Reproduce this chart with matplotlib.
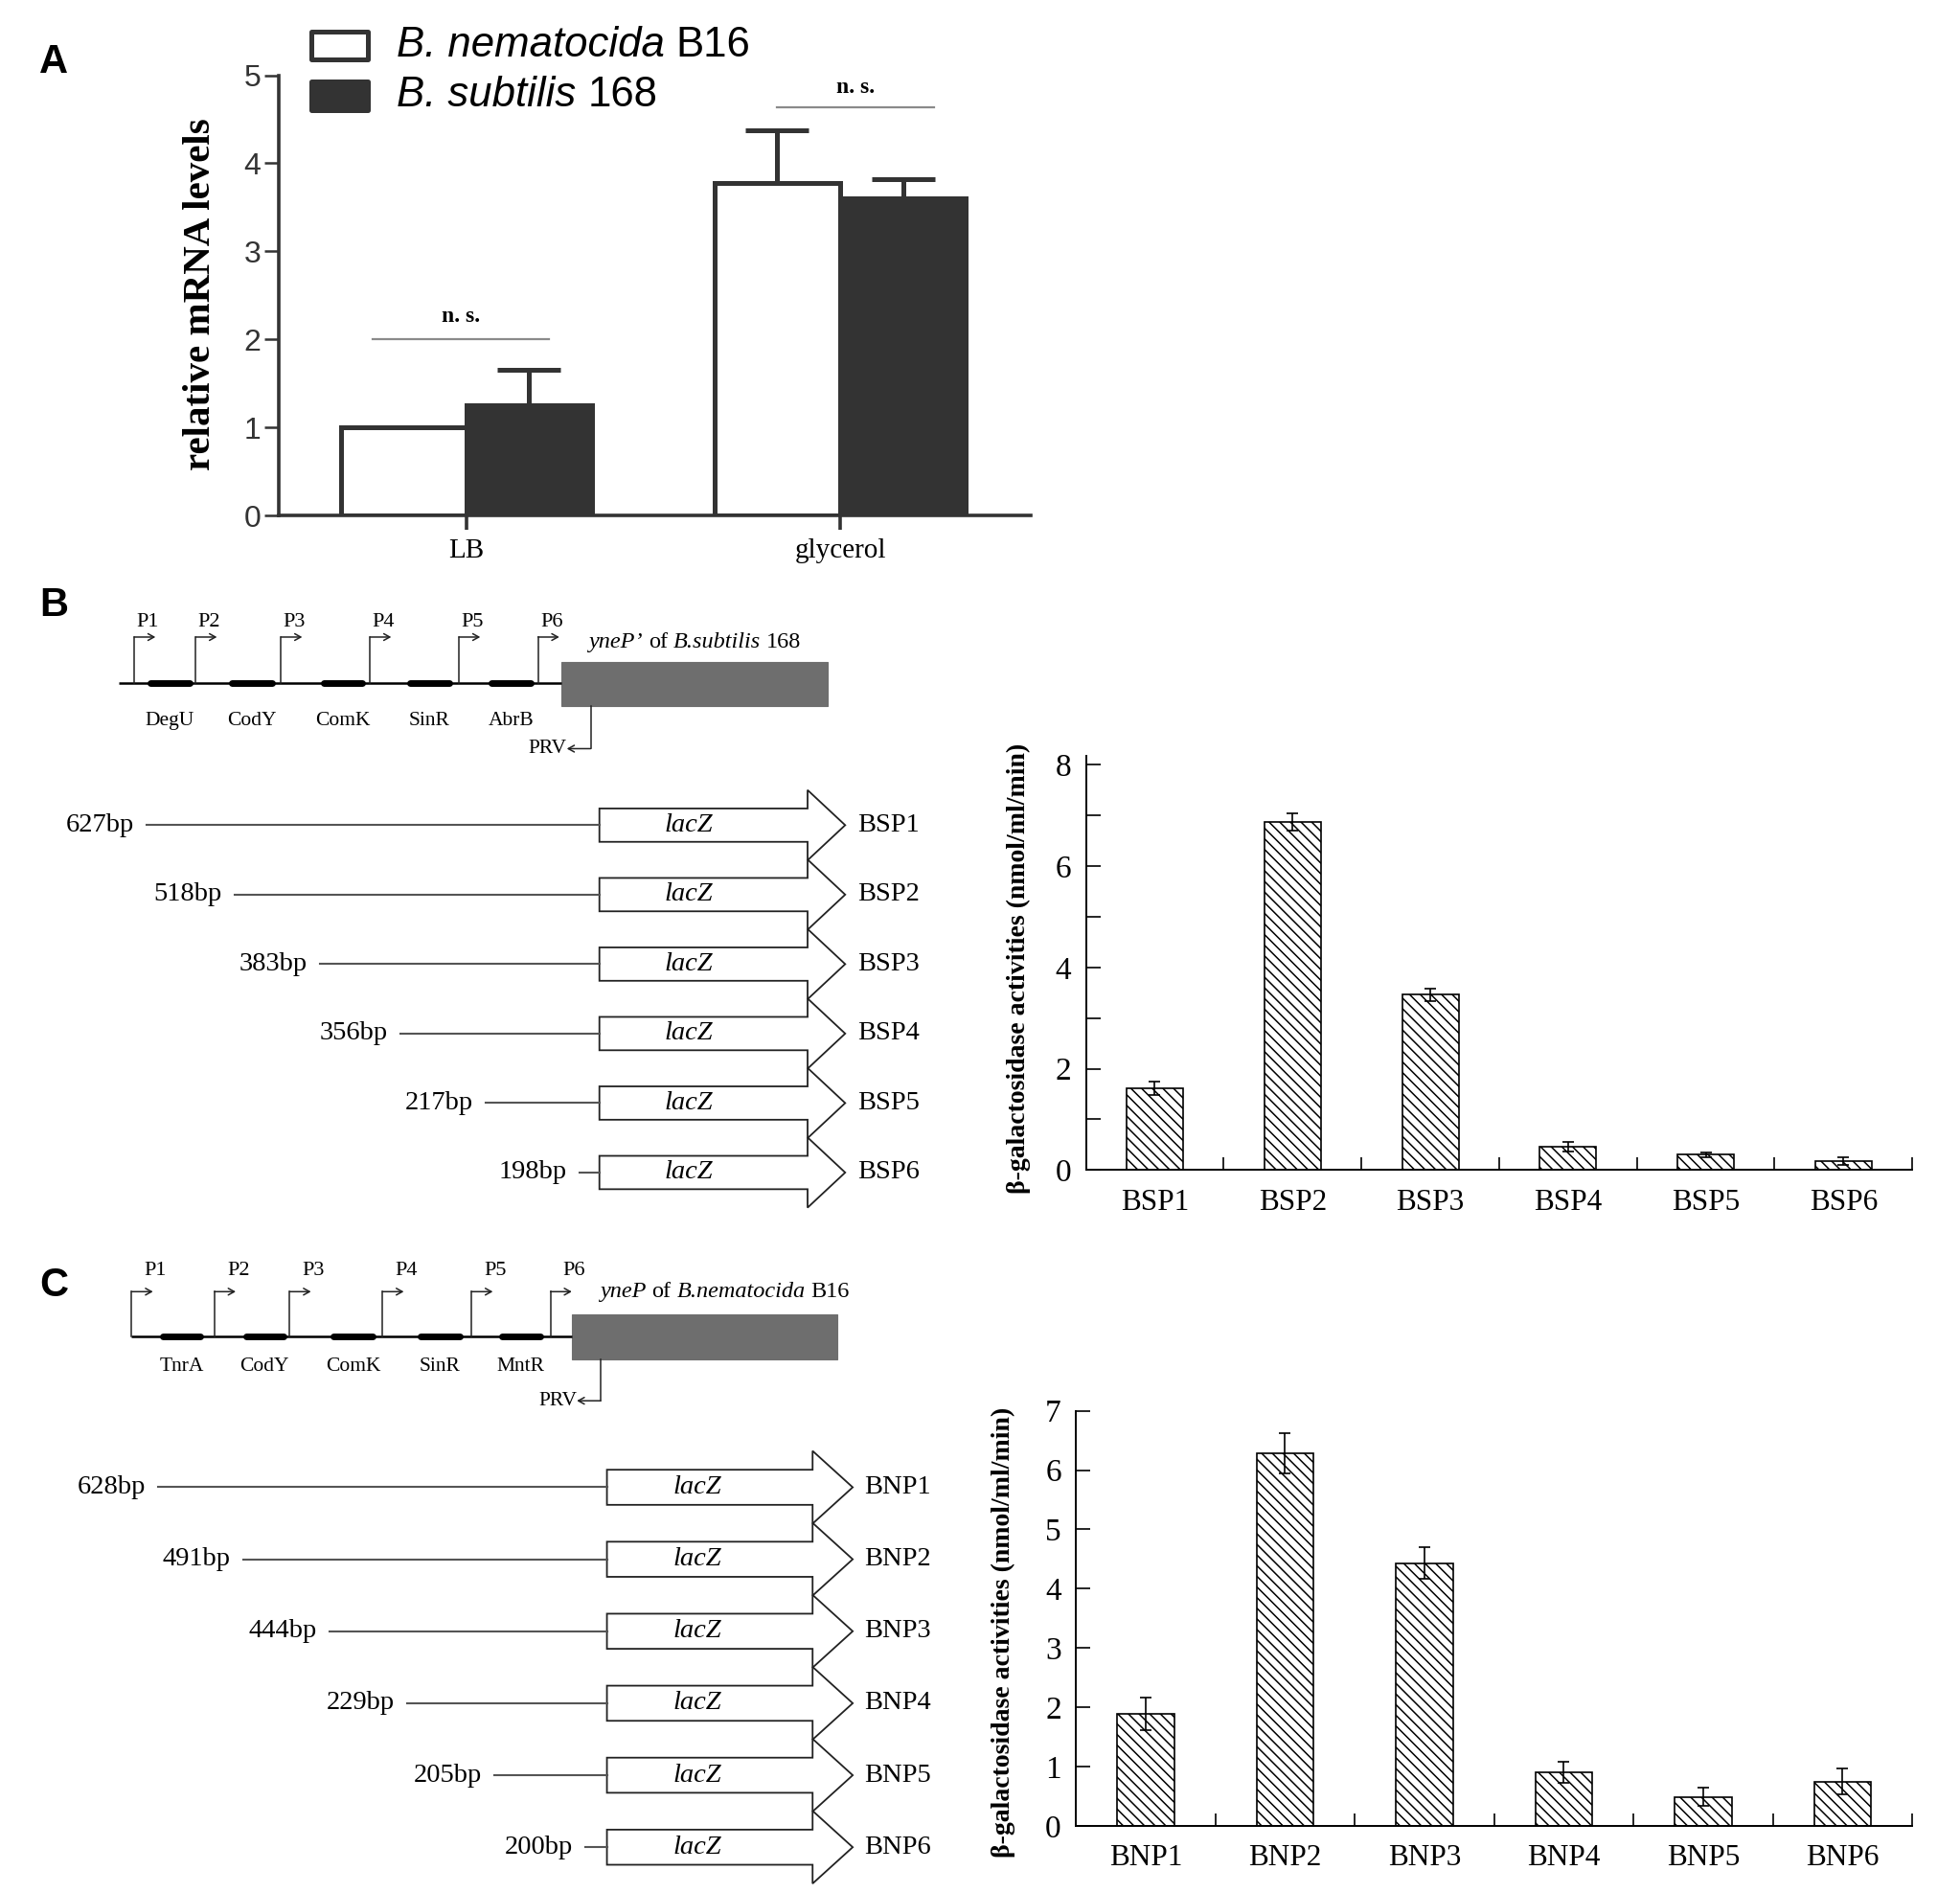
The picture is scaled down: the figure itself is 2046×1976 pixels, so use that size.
import matplotlib
matplotlib.use("Agg")
import matplotlib.pyplot as plt
from matplotlib.patches import Polygon, Rectangle
from matplotlib.ticker import FixedLocator, MultipleLocator
import numpy as np

SERIF = 'Liberation Serif'
SANS = 'Liberation Sans'
DARK = '#333333'
plt.rcParams['font.family'] = SERIF
plt.rcParams['hatch.linewidth'] = 1.1
plt.rcParams['hatch.color'] = 'black'

# ---------------- data ----------------
# panel A: relative yneP mRNA levels
conditions = ['LB', 'glycerol']
b16_mrna = [1.00, 3.78]
b16_err = [0.00, 0.60]
bs168_mrna = [1.25, 3.60]
bs168_err = [0.40, 0.22]

promoters = ['P1', 'P2', 'P3', 'P4', 'P5', 'P6']

# panel B: B. subtilis 168 promoter fragments
b_sites = ['DegU', 'CodY', 'ComK', 'SinR', 'AbrB']
bsp_names = ['BSP1', 'BSP2', 'BSP3', 'BSP4', 'BSP5', 'BSP6']
bsp_bp = ['627bp', '518bp', '383bp', '356bp', '217bp', '198bp']
bsp_act = [1.62, 6.87, 3.46, 0.46, 0.30, 0.18]
bsp_err = [0.13, 0.17, 0.12, 0.10, 0.05, 0.08]

# panel C: B. nematocida B16 promoter fragments
c_sites = ['TnrA', 'CodY', 'ComK', 'SinR', 'MntR']
bnp_names = ['BNP1', 'BNP2', 'BNP3', 'BNP4', 'BNP5', 'BNP6']
bnp_bp = ['628bp', '491bp', '444bp', '229bp', '205bp', '200bp']
bnp_act = [1.89, 6.28, 4.43, 0.90, 0.49, 0.75]
bnp_err = [0.27, 0.34, 0.27, 0.18, 0.15, 0.22]

ylab_act = 'β-galactosidase activities (nmol/ml/min)'

# ---------------- layout (page units) ----------------
W = 1563
H = W * 1976 / 2046

fig = plt.figure(figsize=(20.46, 19.76), dpi=100)
ov = fig.add_axes([0, 0, 1, 1])
ov.set_xlim(0, W)
ov.set_ylim(H, 0)
ov.axis('off')
U = fig.bbox.width / W


def rect(x0, y0, x1, y1):
    return [x0 / W, 1 - y1 / H, (x1 - x0) / W, (y1 - y0) / H]


def rich(x, y, parts, size, family, gap=0.27):
    # consecutive text runs with different styles
    r = fig.canvas.get_renderer()
    for s, style in parts:
        t = ov.text(x, y, s, fontsize=size, family=family, style=style,
                    ha='left', va='center')
        x += t.get_window_extent(r).width / U + gap * size * 100 / 72 / U


for lab, y in zip('ABC', [50, 483, 1025]):
    ov.text(43, y, lab, fontsize=30, family=SANS, weight='bold',
            ha='center', va='center')

# ---------------- panel A ----------------
axA = fig.add_axes(rect(222, 60, 822, 411))
x = np.arange(len(conditions))
w = 0.336
axA.bar(x - w / 2, b16_mrna, w, color='white', edgecolor=DARK, lw=3.6, zorder=2)
axA.bar(x + w / 2, bs168_mrna, w, color=DARK, edgecolor=DARK, lw=3.6, zorder=2)
for xs, vals, errs in [(x - w / 2, b16_mrna, b16_err), (x + w / 2, bs168_mrna, bs168_err)]:
    for xi, v, e in zip(xs, vals, errs):
        if e > 0:
            axA.errorbar(xi, v, yerr=[[0], [e]], fmt='none', ecolor=DARK,
                         elinewidth=3.6, capsize=24, capthick=3.6, zorder=3)
axA.set_xlim(-0.503, 1.51)
axA.set_ylim(0, 5)
for s in ['top', 'right']:
    axA.spines[s].set_visible(False)
for s in ['left', 'bottom']:
    axA.spines[s].set_linewidth(2.6)
    axA.spines[s].set_color(DARK)
axA.set_yticks(range(6))
axA.set_yticklabels([str(i) for i in range(6)], family=SANS, fontsize=23, color=DARK)
axA.set_xticks(x)
axA.set_xticklabels(conditions, family=SERIF, fontsize=21)
axA.tick_params(axis='y', direction='out', length=11, width=1.8, color=DARK, pad=2)
axA.tick_params(axis='x', direction='out', length=11, width=2.6, color=DARK, pad=6)
axA.patch.set_alpha(0)

# n.s. marks
axA.plot([-0.25, 0.22], [2.0, 2.0], color='#8a8a8a', lw=1.6)
axA.text(-0.015, 2.26, 'n. s.', fontsize=17, weight='bold', ha='center', va='center')
axA.plot([0.83, 1.25], [4.64, 4.64], color='#8a8a8a', lw=1.6)
axA.text(1.04, 4.86, 'n. s.', fontsize=17, weight='bold', ha='center', va='center')

ov.text(160, 235, 'relative mRNA levels', rotation=90, fontsize=29.5, weight='bold',
        ha='center', va='center')

# legend
ov.add_patch(Rectangle((248, 25), 45, 22, fc='white', ec=DARK, lw=3.6, joinstyle='round'))
ov.add_patch(Rectangle((248, 65), 45, 23, fc=DARK, ec=DARK, lw=3.6, joinstyle='round'))
rich(316, 36, [('B. nematocida', 'italic'), ('B16', 'normal')], 31.5, SANS, gap=0.28)
rich(316, 76, [('B. subtilis', 'italic'), ('168', 'normal')], 31.5, SANS, gap=0.28)


# ---------------- promoter maps ----------------
def promoter_map(lay, sites, title_parts):
    yl = lay['line_y']
    bx0, by0, bx1, by1 = lay['box']
    ov.plot([lay['line_x0'], bx0], [yl, yl], color='black', lw=1.8, solid_capstyle='butt')
    ov.add_patch(Rectangle((bx0, by0), bx1 - bx0, by1 - by0, fc='#6e6e6e', ec='#6e6e6e', lw=0.8))
    arrow = dict(arrowstyle='->,head_length=0.45,head_width=0.25', color='#222',
                 lw=1.1, shrinkA=0, shrinkB=0)
    for name, px in zip(promoters, lay['p_x']):
        ov.plot([px, px], [yl, lay['p_top']], color='#222', lw=1.1)
        ov.annotate('', xy=(px + 17, lay['p_top']), xytext=(px, lay['p_top']), arrowprops=arrow)
        ov.text(px + lay['p_dx'], lay['p_label_y'], name, fontsize=16, ha='left', va='center')
    for name, (s0, s1) in zip(sites, lay['sites']):
        ov.plot([s0, s1], [yl, yl], color='black', lw=5, solid_capstyle='round')
        ov.text((s0 + s1) / 2, lay['site_label_y'], name, fontsize=15.5, ha='center', va='center')
    px, py = lay['prv']
    ov.plot([px, px], [by1, py], color='#222', lw=1.1)
    ov.annotate('', xy=(px - 19, py), xytext=(px, py), arrowprops=arrow)
    ov.text(px - 19, py, 'PRV', fontsize=15.5, ha='right', va='center')
    rich(lay['title'][0], lay['title'][1], title_parts, 17.5, SERIF, gap=0.25)


def constructs(lay, names, bps):
    x0, x1, xt = lay['body']
    h, hh = lay['h'], lay['hh']
    for y, xs, name, bp in zip(lay['rows'], lay['starts'], names, bps):
        ov.plot([xs, x0], [y, y], color='#555555', lw=1.5)
        ov.add_patch(Polygon([(x0, y - h), (x1, y - h), (x1, y - hh), (xt, y),
                              (x1, y + hh), (x1, y + h), (x0, y + h)],
                             closed=True, fc='white', ec='#222', lw=1.3, joinstyle='miter'))
        ov.text(lay['lacz_x'], y, 'lacZ', style='italic', fontsize=20.5, ha='center', va='center')
        ov.text(xs - 10, y, bp, fontsize=20.5, ha='right', va='center')
        ov.text(lay['name_x'], y, name, fontsize=20.5, ha='left', va='center')


def activity_chart(box, names, vals, errs, ymax, major, minor, ylab_xy):
    ax = fig.add_axes(rect(*box))
    pos = np.arange(1, len(names) + 1)
    ax.bar(pos, vals, 0.41, color='white', edgecolor='black', hatch='\\\\\\', lw=1.2)
    ax.errorbar(pos, vals, yerr=errs, fmt='none', ecolor='black', elinewidth=1.2,
                capsize=4.5, capthick=1.2)
    ax.set_xlim(0.5, len(names) + 0.5)
    ax.set_ylim(0, ymax)
    ax.set_xticks(pos)
    ax.set_xticklabels(names, fontsize=22.5)
    ax.xaxis.set_minor_locator(FixedLocator(pos + 0.5))
    ax.tick_params(axis='x', which='major', length=0, pad=14)
    ax.tick_params(axis='x', which='minor', direction='in', length=9.5, width=1.2)
    ax.yaxis.set_major_locator(MultipleLocator(major))
    if minor:
        ax.yaxis.set_minor_locator(MultipleLocator(minor))
    ax.tick_params(axis='y', which='both', direction='in', length=11, width=1.2,
                   labelsize=24, pad=11)
    for s in ['top', 'right']:
        ax.spines[s].set_visible(False)
    for s in ['left', 'bottom']:
        ax.spines[s].set_linewidth(1.4)
    ax.patch.set_alpha(0)
    ov.text(ylab_xy[0], ylab_xy[1], ylab_act, rotation=90, fontsize=20, weight='bold',
            ha='center', va='center')
    return ax


lay_b = dict(line_y=545, line_x0=95, box=(448, 528, 660, 563),
             p_x=[107, 156, 224, 295, 366, 429], p_dx=2, p_top=508, p_label_y=496,
             sites=[(120, 151), (185, 217), (258, 289), (327, 358), (392, 423)],
             site_label_y=575, prv=(471, 597), title=(469, 512))
promoter_map(lay_b, b_sites, [('yneP’', 'italic'), ('of', 'normal'),
                              ('B.subtilis', 'italic'), ('168', 'normal')])

con_b = dict(rows=[658, 713.4, 768.8, 824.2, 879.6, 935],
             starts=[117, 187, 255, 319, 387, 462],
             body=(478, 644, 674), h=13.3, hh=28, lacz_x=549, name_x=684)
constructs(con_b, bsp_names, bsp_bp)

activity_chart((866, 603, 1525, 933), bsp_names, bsp_act, bsp_err, 8.17, 2, 1, (812, 772))

lay_c = dict(line_y=1066, line_x0=105, box=(456, 1048, 668, 1084),
             p_x=[105, 171, 231, 305, 376, 439], p_dx=10, p_top=1030, p_label_y=1013,
             sites=[(130, 160), (196, 226), (266, 297), (335, 367), (400, 431)],
             site_label_y=1090, prv=(479, 1117), title=(478, 1030))
promoter_map(lay_c, c_sites, [('yneP', 'italic'), ('of', 'normal'),
                              ('B.nematocida', 'italic'), ('B16', 'normal')])

con_c = dict(rows=[1186, 1243.4, 1300.8, 1358.2, 1415.6, 1473],
             starts=[126, 194, 263, 325, 394, 467],
             body=(484, 648, 680), h=14, hh=29, lacz_x=556, name_x=689)
constructs(con_c, bnp_names, bnp_bp)

activity_chart((858, 1125, 1525, 1456), bnp_names, bnp_act, bnp_err, 7.0, 1, None, (800, 1302))

fig.savefig('out.png', dpi=100, facecolor='white')
